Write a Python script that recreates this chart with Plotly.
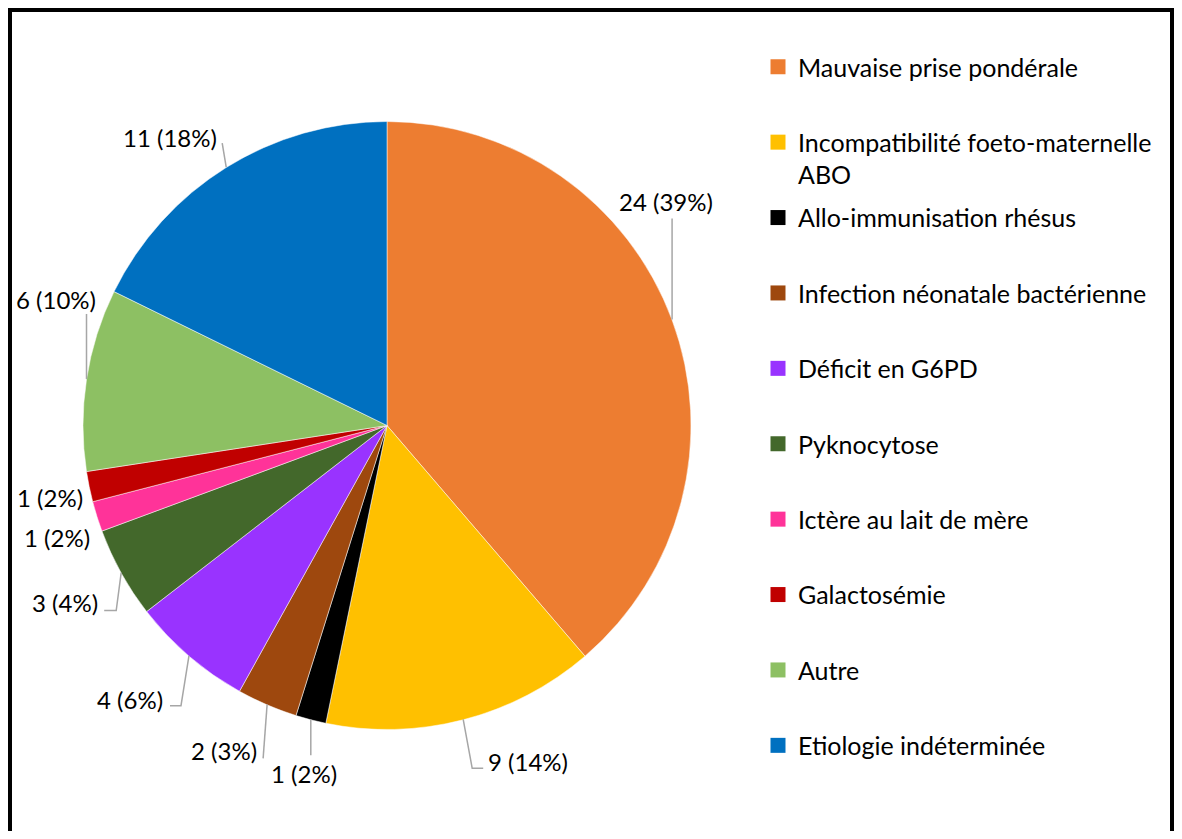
import math
import plotly.graph_objects as go

# data
labels = [
    "Mauvaise prise pondérale",
    "Incompatibilité foeto-maternelle<br>ABO",
    "Allo-immunisation rhésus",
    "Infection néonatale bactérienne",
    "Déficit en G6PD",
    "Pyknocytose",
    "Ictère au lait de mère",
    "Galactosémie",
    "Autre",
    "Etiologie indéterminée",
]
counts = [24, 9, 1, 2, 4, 3, 1, 1, 6, 11]
pct_text = ["39%", "14%", "2%", "3%", "6%", "4%", "2%", "2%", "10%", "18%"]
colors = ["#ED7D31", "#FFC000", "#000000", "#9E480E", "#9933FF",
          "#43682B", "#FF3399", "#C00000", "#8DC063", "#0070C0"]

# the page body has an 8px margin; keep the figure inside the window
OFF = 8
W, H = 1182 - 2 * OFF, 839 - 2 * OFF
CX, CY, R = 387, 425, 304          # pie centre / radius (screen px)
FONT = "Lato"
FS = 24

# label offsets from the slice edge point (px) and leader polylines
label_off = [(-6, -118), (65, 42), (-7, 54), (-43, 46), (-59, 44),
             (-56, 30), (-40, 21), (-39, 11), (-31, -79), (-56, -30)]
leaders = [[(0, -101)], [(9, 49), (20, 49)], [(0, 36)], [(-4, 54)],
           [(-8, 50), (-19, 50)], [(-5, 38), (-17, 38)], [], [],
           [(0, -65)], [(-4, -24)]]


def px(x, y):
    return (x - OFF) / W, 1 - (y - OFF) / H


x0, y1 = px(83, 121)
x1, y0 = px(691, 730)

fig = go.Figure()
fig.add_trace(go.Pie(
    labels=[l.replace("<br>", " ") for l in labels],
    values=counts,
    marker=dict(colors=colors, line=dict(color="white", width=0.5)),
    sort=False, direction="clockwise", rotation=0,
    textinfo="none", hoverinfo="label+value",
    showlegend=False,
    domain=dict(x=[x0, x1], y=[y0, y1]),
))

# legend entries (one per slice, evenly spaced like the original)
for i, (lbl, c) in enumerate(zip(labels, colors)):
    name = lbl if "<br>" in lbl else lbl + "<br> "
    fig.add_trace(go.Scatter(
        x=[None], y=[None], mode="markers", name=name,
        marker=dict(symbol="square", size=15, color=c),
        legendgroup=f"g{i}", showlegend=True, hoverinfo="skip",
    ))

total = sum(counts)
cum = 0
annotations = []
shapes = []
for i, v in enumerate(counts):
    mid = (cum + v / 2) / total * 2 * math.pi
    cum += v
    ax = CX + R * math.sin(mid)
    ay = CY - R * math.cos(mid)
    dx, dy = label_off[i]
    lx, ly = px(ax + dx, ay + dy)
    annotations.append(dict(
        x=lx, y=ly, xref="paper", yref="paper", showarrow=False,
        text=f"{v} ({pct_text[i]})", font=dict(family=FONT, size=FS, color="#000"),
        xanchor="center", yanchor="middle",
    ))
    if leaders[i]:
        pts = [(ax, ay)] + [(ax + a, ay + b) for a, b in leaders[i]]
        path = "M " + " L ".join(f"{px(x, y)[0]},{px(x, y)[1]}" for x, y in pts)
        shapes.append(dict(type="path", xref="paper", yref="paper", path=path,
                           line=dict(color="#A6A6A6", width=1.5)))

# outer frame (as close to the window edge as the page allows)
shapes.append(dict(type="rect", xref="paper", yref="paper",
                   x0=2 / W, x1=1 - 2 / W, y0=-0.03, y1=1 - 2 / H,
                   line=dict(color="black", width=4)))

lgx, lgy = px(758, 44)
fig.update_layout(
    width=W, height=H,
    margin=dict(l=0, r=0, t=0, b=0),
    paper_bgcolor="white", plot_bgcolor="white",
    font=dict(family=FONT, size=FS, color="#000"),
    xaxis=dict(visible=False), yaxis=dict(visible=False),
    showlegend=True,
    legend=dict(x=lgx, y=lgy, xanchor="left", yanchor="top",
                valign="top", tracegroupgap=7.4,
                font=dict(family=FONT, size=25, color="#000"),
                bgcolor="rgba(0,0,0,0)", itemclick=False),
    annotations=annotations,
    shapes=shapes,
)

fig.write_html("out.html")
